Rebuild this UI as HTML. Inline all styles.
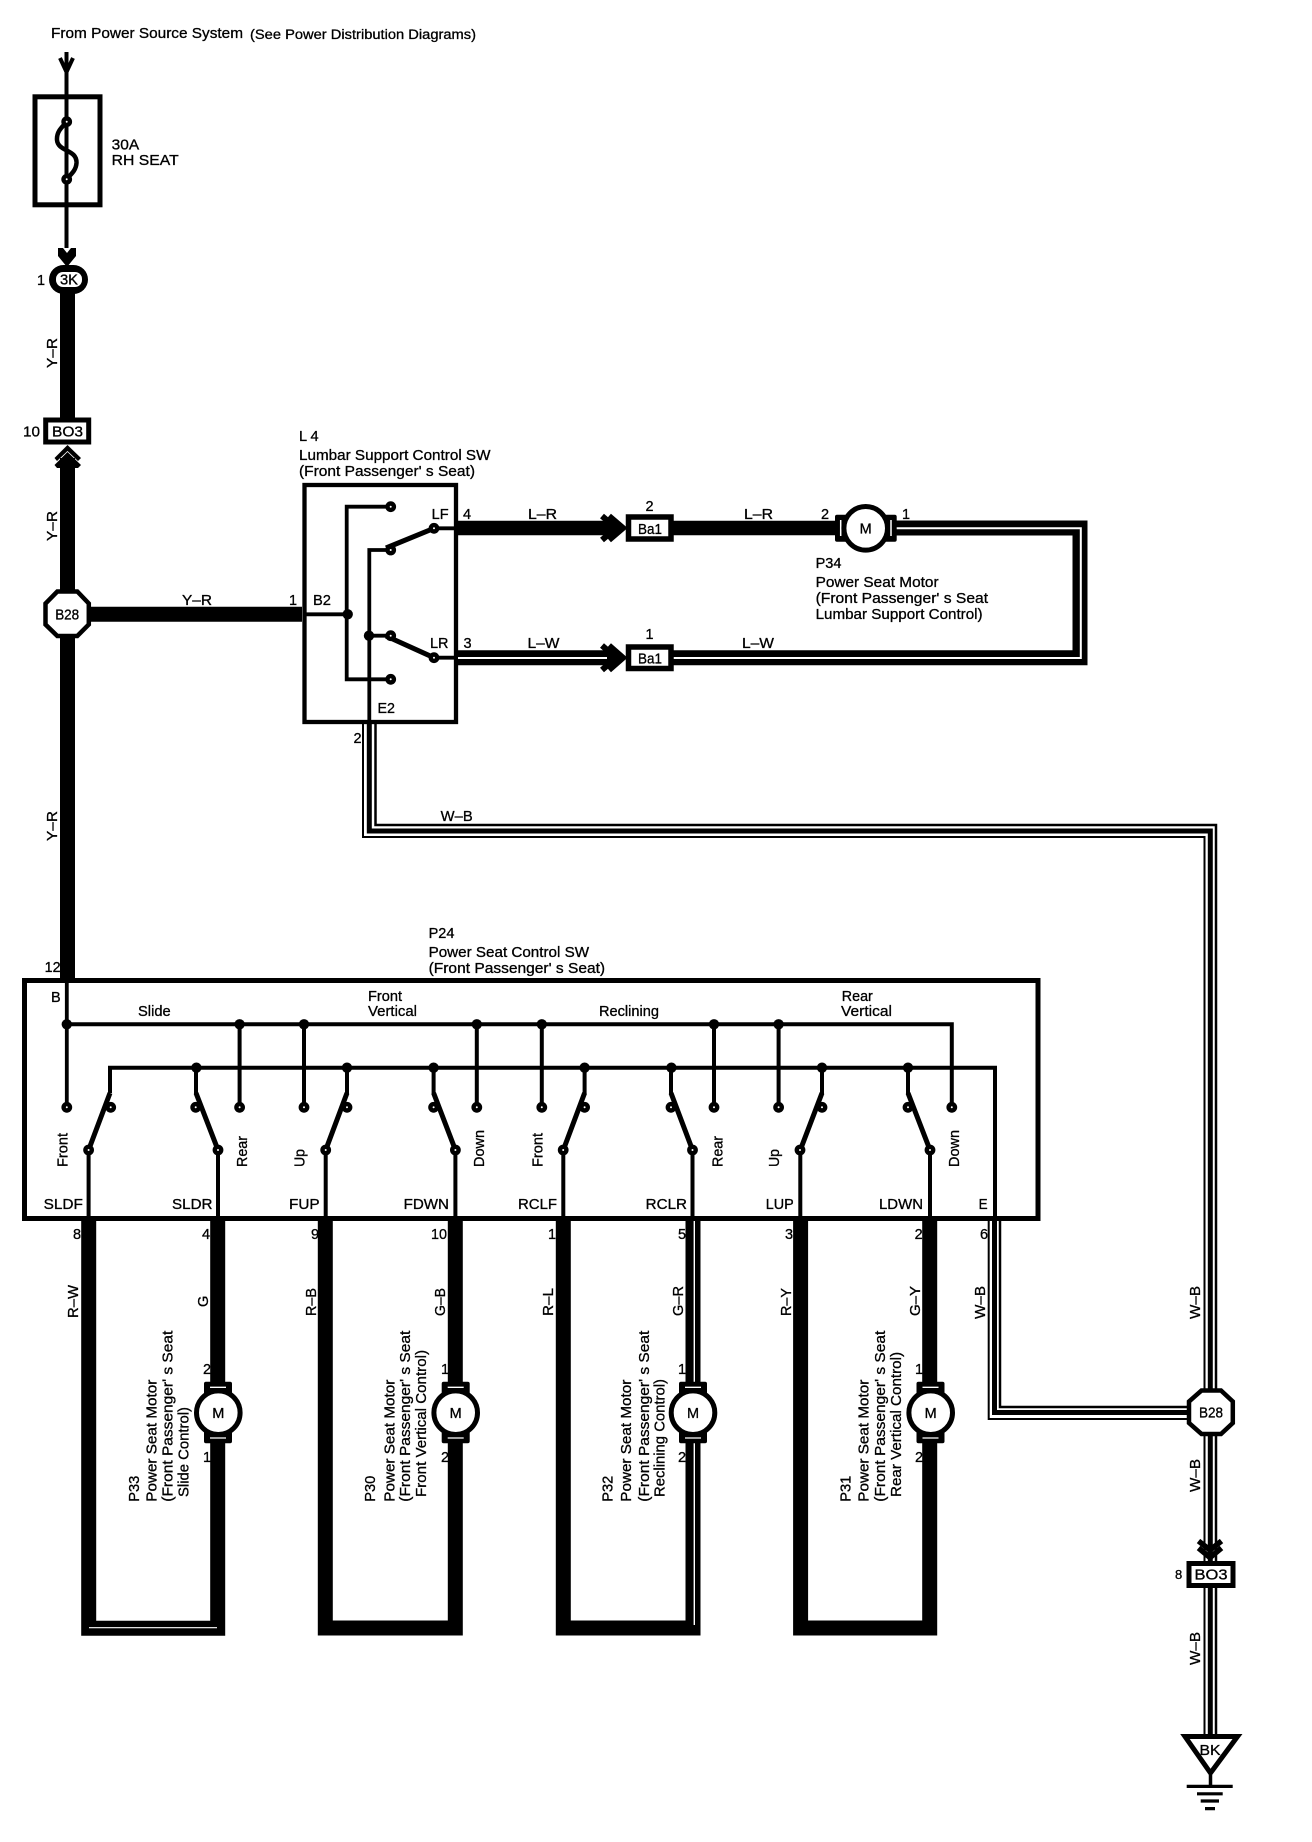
<!DOCTYPE html>
<html><head><meta charset="utf-8"><title>Power Seat Wiring Diagram</title>
<style>
html,body{margin:0;padding:0;background:#fff}
svg{display:block}
text{font-family:"Liberation Sans",sans-serif;font-size:14.5px;fill:#000;stroke:#000;stroke-width:.3px}
.w{fill:none;stroke:#000;stroke-linejoin:miter}
.s{fill:none;stroke:#fff;stroke-width:2}
.t circle{fill:#fff;stroke:#000;stroke-width:4.4;r:3.2px}
.d circle{fill:#000;r:5.2px}
</style></head><body>
<svg xmlns="http://www.w3.org/2000/svg" width="1312" height="1842" viewBox="0 0 1312 1842">
<rect width="1312" height="1842" fill="#fff"/>

<!-- labels placed beneath wires -->
<text x="51" y="38" textLength="192" lengthAdjust="spacingAndGlyphs">From Power Source System</text>
<text x="250" y="39" textLength="226" lengthAdjust="spacingAndGlyphs" style="font-size:13.5px">(See Power Distribution Diagrams)</text>
<text x="111.7" y="149.5" textLength="27.5" lengthAdjust="spacingAndGlyphs">30A</text>
<text x="111.7" y="165" textLength="67" lengthAdjust="spacingAndGlyphs">RH SEAT</text>
<text x="37" y="285">1</text>
<text x="23" y="436.5" textLength="17" lengthAdjust="spacingAndGlyphs">10</text>
<text x="299" y="441">L 4</text>
<text x="299" y="460" textLength="191.5" lengthAdjust="spacingAndGlyphs">Lumbar Support Control SW</text>
<text x="299" y="476" textLength="176" lengthAdjust="spacingAndGlyphs">(Front Passenger' s Seat)</text>
<text x="182" y="605" textLength="30" lengthAdjust="spacingAndGlyphs">Y–R</text>
<text x="289" y="605">1</text>
<text x="313" y="605" textLength="18" lengthAdjust="spacingAndGlyphs">B2</text>
<text x="431.6" y="519" textLength="17" lengthAdjust="spacingAndGlyphs">LF</text>
<text x="463" y="519">4</text>
<text x="430" y="648" textLength="18.5" lengthAdjust="spacingAndGlyphs">LR</text>
<text x="463.5" y="648">3</text>
<text x="528" y="519" textLength="29" lengthAdjust="spacingAndGlyphs">L–R</text>
<text x="645.5" y="511">2</text>
<text x="744" y="519" textLength="29" lengthAdjust="spacingAndGlyphs">L–R</text>
<text x="821" y="519">2</text>
<text x="902" y="519">1</text>
<text x="527.5" y="648" textLength="32" lengthAdjust="spacingAndGlyphs">L–W</text>
<text x="645.5" y="639">1</text>
<text x="742" y="648" textLength="32" lengthAdjust="spacingAndGlyphs">L–W</text>
<text x="377.5" y="713" textLength="17.5" lengthAdjust="spacingAndGlyphs">E2</text>
<text x="353.5" y="743">2</text>
<text x="440.7" y="821" textLength="32" lengthAdjust="spacingAndGlyphs">W–B</text>
<text x="815.6" y="568">P34</text>
<text x="815.6" y="587" textLength="123" lengthAdjust="spacingAndGlyphs">Power Seat Motor</text>
<text x="815.6" y="603" textLength="172.5" lengthAdjust="spacingAndGlyphs">(Front Passenger' s Seat</text>
<text x="815.6" y="619" textLength="167" lengthAdjust="spacingAndGlyphs">Lumbar Support Control)</text>
<text x="428.6" y="938">P24</text>
<text x="428.6" y="957" textLength="160.5" lengthAdjust="spacingAndGlyphs">Power Seat Control SW</text>
<text x="428.6" y="973" textLength="176.5" lengthAdjust="spacingAndGlyphs">(Front Passenger' s Seat)</text>
<text x="44.6" y="972" textLength="16" lengthAdjust="spacingAndGlyphs">12</text>
<text x="51" y="1002">B</text>
<text x="138" y="1016" textLength="32.7" lengthAdjust="spacingAndGlyphs">Slide</text>
<text x="368" y="1001" textLength="34" lengthAdjust="spacingAndGlyphs">Front</text>
<text x="368" y="1016" textLength="49" lengthAdjust="spacingAndGlyphs">Vertical</text>
<text x="599" y="1016" textLength="60" lengthAdjust="spacingAndGlyphs">Reclining</text>
<text x="841.8" y="1001" textLength="31" lengthAdjust="spacingAndGlyphs">Rear</text>
<text x="841" y="1016" textLength="51" lengthAdjust="spacingAndGlyphs">Vertical</text>
<text x="43.6" y="1209" textLength="39.3" lengthAdjust="spacingAndGlyphs">SLDF</text>
<text x="172" y="1209" textLength="40.5" lengthAdjust="spacingAndGlyphs">SLDR</text>
<text x="289" y="1209" textLength="30.6" lengthAdjust="spacingAndGlyphs">FUP</text>
<text x="403.6" y="1209" textLength="45.4" lengthAdjust="spacingAndGlyphs">FDWN</text>
<text x="518" y="1209" textLength="39" lengthAdjust="spacingAndGlyphs">RCLF</text>
<text x="645.7" y="1209" textLength="41.3" lengthAdjust="spacingAndGlyphs">RCLR</text>
<text x="765.7" y="1209" textLength="28" lengthAdjust="spacingAndGlyphs">LUP</text>
<text x="879" y="1209" textLength="44" lengthAdjust="spacingAndGlyphs">LDWN</text>
<text x="978.6" y="1209" textLength="9" lengthAdjust="spacingAndGlyphs">E</text>
<text x="73" y="1239">8</text>
<text x="202" y="1239">4</text>
<text x="311" y="1239">9</text>
<text x="431" y="1239" textLength="16" lengthAdjust="spacingAndGlyphs">10</text>
<text x="548" y="1239">1</text>
<text x="678" y="1239">5</text>
<text x="785" y="1239">3</text>
<text x="914.6" y="1239">2</text>
<text x="980" y="1239">6</text>
<text x="203" y="1374">2</text>
<text x="203" y="1462">1</text>
<text x="441" y="1374">1</text>
<text x="441" y="1462">2</text>
<text x="678" y="1374">1</text>
<text x="678" y="1462">2</text>
<text x="915" y="1374">1</text>
<text x="915" y="1462">2</text>
<text x="1175" y="1579" style="font-size:13px">8</text>

<!-- rotated labels -->
<g>
<text transform="translate(57,368) rotate(-90)" textLength="30" lengthAdjust="spacingAndGlyphs">Y–R</text>
<text transform="translate(57,541) rotate(-90)" textLength="30" lengthAdjust="spacingAndGlyphs">Y–R</text>
<text transform="translate(57,841) rotate(-90)" textLength="30" lengthAdjust="spacingAndGlyphs">Y–R</text>
<text transform="translate(67.5,1167) rotate(-90)" textLength="34" lengthAdjust="spacingAndGlyphs">Front</text>
<text transform="translate(247,1167) rotate(-90)" textLength="31" lengthAdjust="spacingAndGlyphs">Rear</text>
<text transform="translate(304.5,1167) rotate(-90)" textLength="18" lengthAdjust="spacingAndGlyphs">Up</text>
<text transform="translate(484,1167) rotate(-90)" textLength="37" lengthAdjust="spacingAndGlyphs">Down</text>
<text transform="translate(542.5,1167) rotate(-90)" textLength="34" lengthAdjust="spacingAndGlyphs">Front</text>
<text transform="translate(722.5,1167) rotate(-90)" textLength="31" lengthAdjust="spacingAndGlyphs">Rear</text>
<text transform="translate(779,1167) rotate(-90)" textLength="18" lengthAdjust="spacingAndGlyphs">Up</text>
<text transform="translate(959,1167) rotate(-90)" textLength="37" lengthAdjust="spacingAndGlyphs">Down</text>
<text transform="translate(78,1318) rotate(-90)" textLength="33" lengthAdjust="spacingAndGlyphs">R–W</text>
<text transform="translate(208,1307) rotate(-90)">G</text>
<text transform="translate(316,1316) rotate(-90)" textLength="28" lengthAdjust="spacingAndGlyphs">R–B</text>
<text transform="translate(445,1316) rotate(-90)" textLength="28" lengthAdjust="spacingAndGlyphs">G–B</text>
<text transform="translate(553,1316) rotate(-90)" textLength="28" lengthAdjust="spacingAndGlyphs">R–L</text>
<text transform="translate(683,1316) rotate(-90)" textLength="30" lengthAdjust="spacingAndGlyphs">G–R</text>
<text transform="translate(791,1316) rotate(-90)" textLength="28" lengthAdjust="spacingAndGlyphs">R–Y</text>
<text transform="translate(920,1316) rotate(-90)" textLength="30" lengthAdjust="spacingAndGlyphs">G–Y</text>
<text transform="translate(985,1319) rotate(-90)" textLength="33" lengthAdjust="spacingAndGlyphs">W–B</text>
<text transform="translate(1200,1319) rotate(-90)" textLength="33" lengthAdjust="spacingAndGlyphs">W–B</text>
<text transform="translate(1200,1492) rotate(-90)" textLength="33" lengthAdjust="spacingAndGlyphs">W–B</text>
<text transform="translate(1200,1665) rotate(-90)" textLength="33" lengthAdjust="spacingAndGlyphs">W–B</text>

<text transform="translate(139,1501.7) rotate(-90)" textLength="26" lengthAdjust="spacingAndGlyphs">P33</text>
<text transform="translate(156.7,1501.7) rotate(-90)" textLength="122" lengthAdjust="spacingAndGlyphs">Power Seat Motor</text>
<text transform="translate(172.3,1501.7) rotate(-90)" textLength="171" lengthAdjust="spacingAndGlyphs">(Front Passenger' s Seat</text>
<text transform="translate(188.3,1497) rotate(-90)" textLength="90" lengthAdjust="spacingAndGlyphs">Slide Control)</text>

<text transform="translate(375,1501.7) rotate(-90)" textLength="26" lengthAdjust="spacingAndGlyphs">P30</text>
<text transform="translate(394.3,1501.7) rotate(-90)" textLength="122" lengthAdjust="spacingAndGlyphs">Power Seat Motor</text>
<text transform="translate(410,1501.7) rotate(-90)" textLength="171" lengthAdjust="spacingAndGlyphs">(Front Passenger' s Seat</text>
<text transform="translate(426,1497) rotate(-90)" textLength="147" lengthAdjust="spacingAndGlyphs">Front Vertical Control)</text>

<text transform="translate(612.7,1501.7) rotate(-90)" textLength="26" lengthAdjust="spacingAndGlyphs">P32</text>
<text transform="translate(631,1501.7) rotate(-90)" textLength="122" lengthAdjust="spacingAndGlyphs">Power Seat Motor</text>
<text transform="translate(649,1501.7) rotate(-90)" textLength="171" lengthAdjust="spacingAndGlyphs">(Front Passenger' s Seat</text>
<text transform="translate(664.3,1497) rotate(-90)" textLength="118" lengthAdjust="spacingAndGlyphs">Reclining Control)</text>

<text transform="translate(850.7,1501.7) rotate(-90)" textLength="26" lengthAdjust="spacingAndGlyphs">P31</text>
<text transform="translate(868.3,1501.7) rotate(-90)" textLength="122" lengthAdjust="spacingAndGlyphs">Power Seat Motor</text>
<text transform="translate(885,1501.7) rotate(-90)" textLength="171" lengthAdjust="spacingAndGlyphs">(Front Passenger' s Seat</text>
<text transform="translate(901,1497) rotate(-90)" textLength="145" lengthAdjust="spacingAndGlyphs">Rear Vertical Control)</text>
</g>

<!-- fuse -->
<rect x="35" y="96.8" width="65" height="108" class="w" stroke-width="5"/>
<path d="M66.500 52V248" class="w" stroke-width="4"/>
<path d="M60 58L66.500 72L73 58" class="w" stroke-width="4"/>
<path d="M66.700 122C61 128 56.500 132 57 140C58 152 77 149 76.500 163C76 171 70 175 66.700 179" fill="none" stroke="#000" stroke-width="4.500"/>
<g class="t"><circle cx="66.700" cy="121.700"/><circle cx="66.700" cy="179.300"/></g>

<!-- 3K connector -->
<path d="M58 248H63L67 253L71 248H76V256L67 267L58 256Z" fill="#000"/>
<rect x="49" y="265" width="39" height="29" rx="14.500" ry="14.500" fill="#000"/>
<rect x="56" y="272" width="26" height="15" rx="7" fill="#fff"/>
<text x="69" y="284.500" text-anchor="middle" textLength="18" lengthAdjust="spacingAndGlyphs">3K</text>

<!-- Y-R main wire -->
<path d="M67.500 291V420M67.500 458V978" class="w" stroke-width="15"/>
<path d="M75 614.300H302" class="w" stroke-width="15"/>

<!-- BO3 top -->
<rect x="45.700" y="420" width="43" height="22" fill="#fff" stroke="#000" stroke-width="5"/>
<text x="67.500" y="436.500" text-anchor="middle" textLength="31" lengthAdjust="spacingAndGlyphs">BO3</text>
<path d="M54.500 458L67.500 445L81 458L78 461L67.500 451L57 461ZM54.500 465L67.500 452L81 465L78 468H75L67.500 460L60 468H57Z" fill="#000"/>

<!-- B28 left -->
<path d="M57.300 591.500H77.300L88.800 603.500V624.500L77.300 636H57.300L45.500 624.500V603.500Z" fill="#fff" stroke="#000" stroke-width="4.500"/>
<text x="67.200" y="619.500" text-anchor="middle" textLength="24" lengthAdjust="spacingAndGlyphs">B28</text>

<!-- lumbar switch -->
<rect x="304.500" y="485" width="151.500" height="237" class="w" stroke-width="4.300"/>
<path d="M304 614.300H347.700M390.700 506.700H346.700V679.300H390.700M390.700 550H369.300V722M369.300 635.700H390.700M434 528.300H458M434 657.700H458" class="w" stroke-width="3.800"/>
<path d="M386 548L434 528.300M386 636L434 657.700" class="w" stroke-width="5"/>
<g class="d"><circle cx="347.700" cy="614.300"/><circle cx="369" cy="635.700"/></g>
<g class="t"><circle cx="390.700" cy="506.700"/><circle cx="390.700" cy="550"/><circle cx="390.700" cy="635.700"/><circle cx="390.700" cy="679.300"/><circle cx="434" cy="528.300"/><circle cx="434" cy="657.700"/></g>

<!-- lumbar wires -->
<path d="M458 528H616M673 528H836" class="w" stroke-width="14.500"/>
<path d="M458 657.700H616M673 657.700H1080V528H895" class="w" stroke-width="15"/>
<path d="M458 658H607M673 658H1080.800V528.300H895" class="s"/>
<path d="M602 516L616 528L602 540M609 516L623 528L609 540" class="w" stroke-width="6"/>
<path d="M602 645.500L616 657.700L602 670M609 645.500L623 657.700L609 670" class="w" stroke-width="6"/>
<rect x="628.500" y="517" width="42.500" height="22" fill="#fff" stroke="#000" stroke-width="5.500"/>
<text x="650" y="534" text-anchor="middle" textLength="24" lengthAdjust="spacingAndGlyphs">Ba1</text>
<rect x="628.500" y="647" width="42.500" height="21.500" fill="#fff" stroke="#000" stroke-width="5.500"/>
<text x="650" y="663.500" text-anchor="middle" textLength="24" lengthAdjust="spacingAndGlyphs">Ba1</text>

<!-- P34 motor -->
<rect x="835" y="514.800" width="61.700" height="27" rx="2" fill="#000"/>
<path d="M840.700 520V536M891 520V536" stroke="#fff" stroke-width="1.500"/>
<circle cx="865.700" cy="528.300" r="21.800" fill="#fff" stroke="#000" stroke-width="5"/>
<text x="865.700" y="533.500" text-anchor="middle">M</text>

<!-- W-B from L4 -->
<path d="M363 724V837H1204.500V1390" class="w" stroke-width="2"/>
<path d="M369.300 724V831H1210.300V1390" class="w" stroke-width="5"/>
<path d="M375.500 724V825H1216V1390" class="w" stroke-width="2.500"/>

<!-- P24 box -->
<rect x="24.500" y="980.500" width="1013.500" height="238" class="w" stroke-width="5"/>
<!-- buses -->
<path d="M66.800 975V1107" class="w" stroke-width="3.800"/>
<path d="M66.800 1024.300H951.800V1107" class="w" stroke-width="4"/>
<path d="M110 1093V1067.700H995V1221" class="w" stroke-width="4"/>
<path d="M239.600 1024V1107M304 1024V1107M476.800 1024V1107M541.800 1024V1107M714 1024V1107M778.600 1024V1107" class="w" stroke-width="4"/>
<path d="M196 1068V1094M347 1068V1094M433.600 1068V1094M584.600 1068V1094M671 1068V1094M822 1068V1094M908 1068V1094" class="w" stroke-width="4"/>
<path d="M88.600 1150V1221M218 1150V1221M325.700 1150V1221M455.400 1150V1221M563.300 1150V1221M692.500 1150V1221M800.300 1150V1221M930 1150V1221" class="w" stroke-width="4"/>
<path d="M110 1093L88.600 1150M196 1093L218 1150M347 1093L325.700 1150M433.600 1093L455.400 1150M584.600 1093L563.300 1150M671 1093L692.500 1150M822 1093L800.300 1150M908 1093L930 1150" class="w" stroke-width="5"/>
<g class="d">
<circle cx="66.800" cy="1024.300"/><circle cx="239.600" cy="1024.300"/><circle cx="304" cy="1024.300"/><circle cx="476.800" cy="1024.300"/><circle cx="541.800" cy="1024.300"/><circle cx="714" cy="1024.300"/><circle cx="778.600" cy="1024.300"/>
<circle cx="196.400" cy="1067.700"/><circle cx="347" cy="1067.700"/><circle cx="433.600" cy="1067.700"/><circle cx="584.600" cy="1067.700"/><circle cx="671.400" cy="1067.700"/><circle cx="822" cy="1067.700"/><circle cx="908" cy="1067.700"/>
</g>
<g class="t">
<circle cx="66.800" cy="1107.300"/><circle cx="110.700" cy="1107.300"/><circle cx="195.700" cy="1107.300"/><circle cx="239.600" cy="1107.300"/><circle cx="304" cy="1107.300"/><circle cx="347" cy="1107.300"/><circle cx="433.600" cy="1107.300"/><circle cx="476.800" cy="1107.300"/><circle cx="541.800" cy="1107.300"/><circle cx="584.600" cy="1107.300"/><circle cx="671" cy="1107.300"/><circle cx="714" cy="1107.300"/><circle cx="778.600" cy="1107.300"/><circle cx="822" cy="1107.300"/><circle cx="908" cy="1107.300"/><circle cx="951.800" cy="1107.300"/>
<circle cx="88.600" cy="1150"/><circle cx="218" cy="1150"/><circle cx="325.700" cy="1150"/><circle cx="455.400" cy="1150"/><circle cx="563.200" cy="1150"/><circle cx="692.500" cy="1150"/><circle cx="800" cy="1150"/><circle cx="930" cy="1150"/>
</g>

<!-- motor loops -->
<path d="M88.700 1221V1628.200H217.700V1221" class="w" stroke-width="15"/>
<path d="M89 1627.700H217" stroke="#fff" stroke-width="1.200"/>
<path d="M325.300 1221V1628H455.300V1221" class="w" stroke-width="15"/>
<path d="M563.300 1221V1628H693V1221" class="w" stroke-width="15"/>
<path d="M694.300 1221V1625" stroke="#fff" stroke-width="1.400"/>
<path d="M800.600 1221V1628H929.700V1221" class="w" stroke-width="15"/>

<!-- motors vertical -->
<g>
<rect x="204" y="1381.700" width="28" height="61.600" rx="2" fill="#000"/>
<path d="M210 1387.300H226M210 1438H226" stroke="#fff" stroke-width="1.300"/>
<circle cx="218.300" cy="1412.700" r="21.800" fill="#fff" stroke="#000" stroke-width="5"/>
<text x="218.300" y="1418" text-anchor="middle">M</text>
<rect x="441.700" y="1381.700" width="28" height="61.600" rx="2" fill="#000"/>
<path d="M447.700 1387.300H463.700M447.700 1438H463.700" stroke="#fff" stroke-width="1.300"/>
<circle cx="455.700" cy="1412.700" r="21.800" fill="#fff" stroke="#000" stroke-width="5"/>
<text x="455.700" y="1418" text-anchor="middle">M</text>
<rect x="679" y="1381.700" width="28" height="61.600" rx="2" fill="#000"/>
<path d="M685 1387.300H701M685 1438H701" stroke="#fff" stroke-width="1.300"/>
<circle cx="693" cy="1412.700" r="21.800" fill="#fff" stroke="#000" stroke-width="5"/>
<text x="693" y="1418" text-anchor="middle">M</text>
<rect x="916.500" y="1381.700" width="28" height="61.600" rx="2" fill="#000"/>
<path d="M922.500 1387.300H938.500M922.500 1438H938.500" stroke="#fff" stroke-width="1.300"/>
<circle cx="930.700" cy="1412.700" r="21.800" fill="#fff" stroke="#000" stroke-width="5"/>
<text x="930.700" y="1418" text-anchor="middle">M</text>
</g>

<!-- W-B from E -->
<path d="M988.700 1221V1419H1190" class="w" stroke-width="2"/>
<path d="M994.500 1221V1412.500H1190" class="w" stroke-width="5"/>
<path d="M1000 1221V1407H1190" class="w" stroke-width="2.500"/>

<!-- B28 right -->
<path d="M1201.500 1390.500H1221L1232.800 1401.500V1423L1221 1434H1201.500L1189 1423V1401.500Z" fill="#fff" stroke="#000" stroke-width="4.500"/>
<text x="1211" y="1417.500" text-anchor="middle" textLength="24" lengthAdjust="spacingAndGlyphs">B28</text>

<!-- lower W-B -->
<path d="M1204.500 1436V1735" class="w" stroke-width="2"/>
<path d="M1210.300 1436V1735" class="w" stroke-width="5"/>
<path d="M1216 1436V1735" class="w" stroke-width="2.500"/>
<path d="M1198.500 1541L1210 1550L1221.500 1541M1198.500 1548L1210 1557.500L1221.500 1548" class="w" stroke-width="5.500"/>
<rect x="1189" y="1563.500" width="44" height="22" fill="#fff" stroke="#000" stroke-width="5"/>
<text x="1211" y="1579.500" text-anchor="middle" textLength="33" lengthAdjust="spacingAndGlyphs">BO3</text>

<!-- ground -->
<path d="M1185 1736.500H1237.500L1210.500 1773Z" fill="#fff" stroke="#000" stroke-width="5"/>
<text x="1210" y="1755" text-anchor="middle" textLength="21" lengthAdjust="spacingAndGlyphs">BK</text>
<path d="M1210.500 1775V1786" class="w" stroke-width="3.500"/>
<path d="M1186.700 1786.400H1232.700M1197 1793.800H1222.700M1200.700 1801H1219M1205 1808.600H1215" class="w" stroke-width="3.200"/>
</svg>
</body></html>
